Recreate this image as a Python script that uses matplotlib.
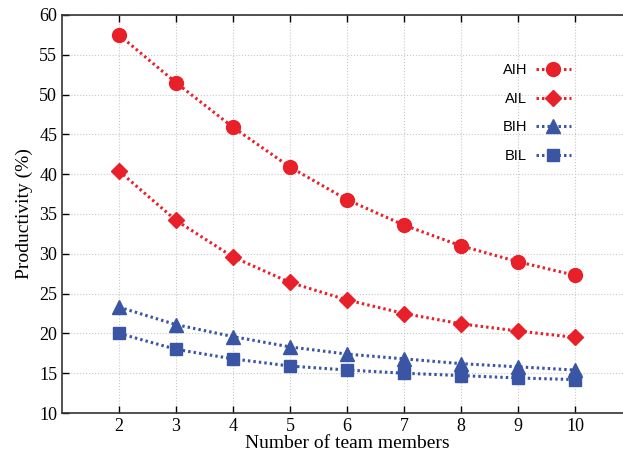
import numpy as np
import matplotlib
matplotlib.use("Agg")
from matplotlib import pyplot as plt

team_size = [2, 3, 4, 5, 6, 7, 8, 9, 10]
aih = [57.5, 51.5, 45.9, 40.9, 36.8, 33.6, 31.0, 29.0, 27.3]
ail = [40.4, 34.2, 29.6, 26.4, 24.2, 22.5, 21.2, 20.3, 19.5]
bih = [23.3, 21.1, 19.6, 18.3, 17.4, 16.8, 16.2, 15.8, 15.4]
bil = [20.0, 18.0, 16.8, 15.9, 15.4, 15.0, 14.7, 14.4, 14.2]

red = "#e8202a"
blue = "#3a55a4"

fig = plt.figure(figsize=(6.23, 4.54), dpi=100)
ax = fig.add_axes([62 / 623, 41 / 454, 570 / 623, 398 / 454])

series = [("AIH", aih, red, "o", 10),
          ("AIL", ail, red, "D", 8),
          ("BIH", bih, blue, "^", 10),
          ("BIL", bil, blue, "s", 9)]
for name, vals, col, mk, ms in series:
    ax.plot(team_size, vals, color=col, linestyle=(0, (0.8, 1.0)), linewidth=2.2,
            marker=mk, markersize=ms, markeredgecolor=col, label=name)

ax.set_xlim(1, 11)
ax.set_ylim(10, 60)
ax.set_xticks(team_size)
ax.set_yticks(np.arange(10, 61, 5))
ax.grid(True, linestyle=":", color="#c8c8c8", linewidth=0.8)
ax.tick_params(direction="in", top=True, length=5, width=1, labelsize=13)
ax.spines["right"].set_visible(False)
for s in ["left", "bottom", "top"]:
    ax.spines[s].set_linewidth(1.2)
    ax.spines[s].set_color("#333333")
for lbl in ax.get_xticklabels() + ax.get_yticklabels():
    lbl.set_family("Liberation Serif")

ax.set_xlabel("Number of team members", family="Liberation Serif", fontsize=14, labelpad=0)
ax.set_ylabel("Productivity (%)", family="Liberation Serif", fontsize=14, labelpad=4)

leg = ax.legend(loc="upper left", bbox_to_anchor=(0.75, 0.912), frameon=False,
                markerfirst=False, prop={"family": "Liberation Sans", "size": 10.5},
                handlelength=2.4, handletextpad=0.6, labelspacing=1.0)

fig.savefig("out.png", dpi=100)
